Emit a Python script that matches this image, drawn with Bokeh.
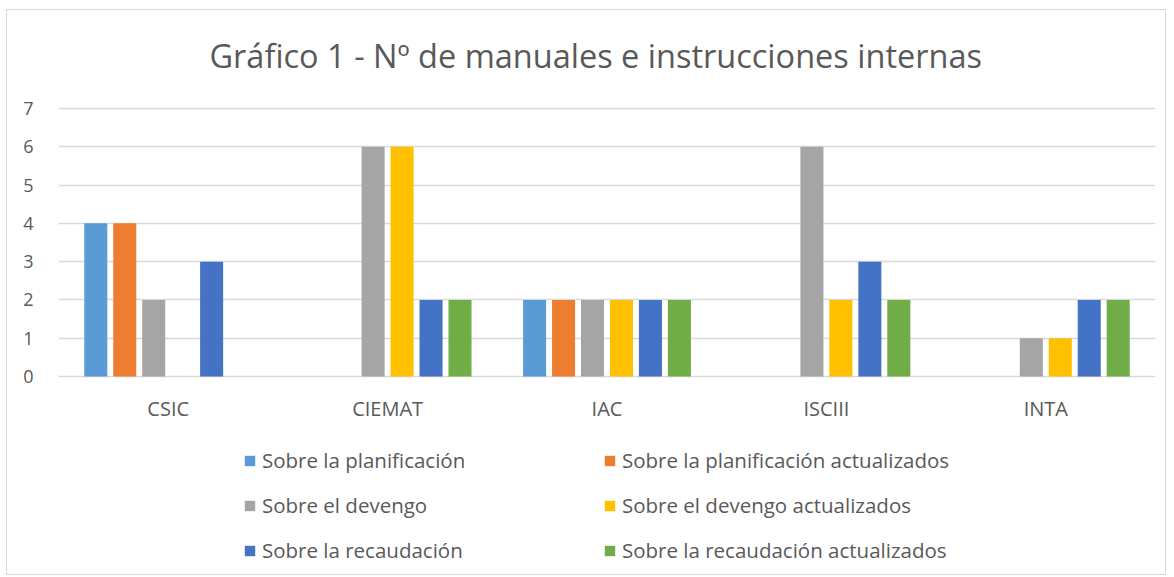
from bokeh.plotting import figure
from bokeh.models import FactorRange, Legend, LegendItem, FixedTicker, Range1d, Label, ColumnDataSource
from bokeh.core.properties import value
from bokeh.transform import dodge
from bokeh.embed import file_html
from bokeh.resources import INLINE

categories = ["CSIC", "CIEMAT", "IAC", "ISCIII", "INTA"]
series_names = [
    "Sobre la planificación",
    "Sobre la planificación actualizados",
    "Sobre el devengo",
    "Sobre el devengo actualizados",
    "Sobre la recaudación",
    "Sobre la recaudación actualizados",
]
planificacion = [4, 0, 2, 0, 0]
planificacion_act = [4, 0, 2, 0, 0]
devengo = [2, 6, 2, 6, 1]
devengo_act = [0, 6, 2, 2, 1]
recaudacion = [3, 2, 2, 3, 2]
recaudacion_act = [0, 2, 2, 2, 2]
y_ticks = [0, 1, 2, 3, 4, 5, 6, 7]
colors = ["#5B9BD5", "#ED7D31", "#A5A5A5", "#FFC000", "#4472C4", "#70AD47"]
title_text = "Gráfico 1 - Nº de manuales e instrucciones internas"

series_values = [planificacion, planificacion_act, devengo, devengo_act, recaudacion, recaudacion_act]
keys = ["s0", "s1", "s2", "s3", "s4", "s5"]

data = {"cat": categories}
for k, v in zip(keys, series_values):
    data[k] = v
source = ColumnDataSource(data)

TXT = "#595959"
FONT = "Open Sans"

# the frame spans the full canvas height so title and legend sit inside it (no clipping);
# value axis 0..7 occupies canvas rows 98..366
CANVAS_H = 566
PX_PER_UNIT = 268 / 7.0
y_top = 7 + 98 / PX_PER_UNIT
y_bottom = 7 - (CANVAS_H - 98) / PX_PER_UNIT

p = figure(
    x_range=FactorRange(*categories, range_padding=0),
    y_range=Range1d(y_bottom, y_top),
    width=1160, height=CANVAS_H,
    output_backend="svg", toolbar_location=None,
    x_axis_location=None,
    min_border_left=51, min_border_right=12, min_border_top=0, min_border_bottom=0,
)
p.styles = {"border": "1px solid #d9d9d9", "margin-left": "6px", "margin-top": "9px"}
p.outline_line_color = None
p.background_fill_color = "white"
p.border_fill_color = "white"

p.add_layout(Label(x=0.688, y=7 + 53 / PX_PER_UNIT, text=title_text, text_align="left",
                   text_baseline="middle", text_font=FONT, text_font_size="32.5px",
                   text_color=TXT))

step = 0.132
width = 0.105
renderers = []
for i, (k, c) in enumerate(zip(keys, colors)):
    off = (i - 2.5) * step
    r = p.vbar(x=dodge("cat", off, range=p.x_range), top=k, width=width, source=source,
               fill_color=c, line_color=None)
    renderers.append(r)

# category labels under the zero line
p.text(x="cat", y=-0.84, text="cat", source=source, text_align="center", text_baseline="middle",
       text_font=value(FONT), text_font_size="20px", text_color=TXT)

p.xgrid.grid_line_color = None
p.ygrid.grid_line_color = "#d9d9d9"
p.ygrid.grid_line_width = 1.3
p.yaxis.ticker = FixedTicker(ticks=y_ticks)
p.yaxis.axis_line_color = None
p.yaxis.major_tick_line_color = None
p.yaxis.minor_tick_line_color = None
p.yaxis.major_label_text_color = TXT
p.yaxis.major_label_text_font = FONT
p.yaxis.major_label_text_font_size = "18px"
p.yaxis.major_label_standoff = 19

leg1 = Legend(items=[LegendItem(label=series_names[i], renderers=[renderers[i]]) for i in (0, 2, 4)])
leg2 = Legend(items=[LegendItem(label=series_names[i], renderers=[renderers[i]]) for i in (1, 3, 5)])
for lg, x in ((leg1, 185), (leg2, 545)):
    lg.location = (x, 12)
    lg.orientation = "vertical"
    lg.padding = 0
    lg.margin = 0
    lg.spacing = 17
    lg.glyph_width = 13
    lg.glyph_height = 13
    lg.label_height = 20
    lg.label_standoff = 6
    lg.border_line_color = None
    lg.background_fill_alpha = 0
    lg.label_text_font = FONT
    lg.label_text_font_size = "20.5px"
    lg.label_text_color = TXT
    p.add_layout(lg, "center")

open("out.html", "w").write(file_html(p, INLINE))
